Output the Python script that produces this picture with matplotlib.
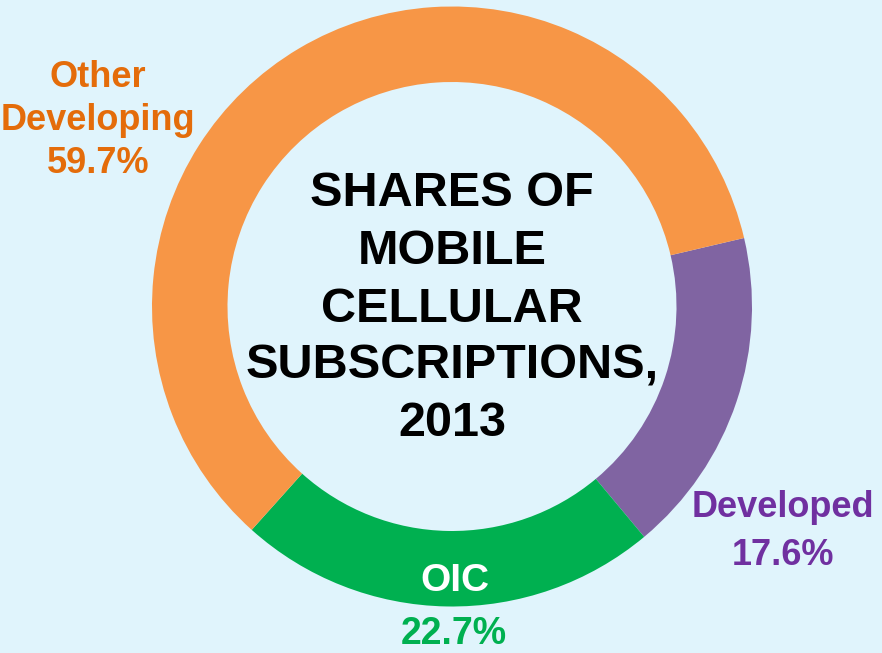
import matplotlib
matplotlib.use("Agg")
import matplotlib.pyplot as plt

categories = ["Developed", "OIC", "Other Developing"]
shares = [17.6, 22.7, 59.7]
slice_colors = ["#8064A2", "#00B050", "#F79646"]
title_lines = ["SHARES OF", "MOBILE", "CELLULAR", "SUBSCRIPTIONS,", "2013"]

W, H = 882, 653
BG = "#E0F4FC"
plt.rcParams['font.family'] = ['Liberation Sans', 'DejaVu Sans']

fig = plt.figure(figsize=(W / 100, H / 100), dpi=100, facecolor=BG)
ax = fig.add_axes([0, 0, 1, 1])
ax.set_facecolor(BG)

cx, cy, R = 452, H - 306.5, 300
ax.pie(shares, colors=slice_colors, startangle=13.2, counterclock=False,
       center=(cx, cy), radius=R, frame=True,
       wedgeprops=dict(width=R - 224.5, linewidth=0))
ax.set_xlim(0, W)
ax.set_ylim(0, H)
ax.set_aspect('equal')
ax.axis('off')

def put(x, y_px, s, color, size):
    ax.text(x, H - y_px, s, color=color, fontsize=size, fontweight='bold',
            ha='center', va='baseline')

# centre title
for i, line in enumerate(title_lines):
    put(452, 206.5 + i * 57.5, line, "black", 35)

# labels
put(98, 87, "Other", "#E46C0A", 26)
put(98, 130, "Developing", "#E46C0A", 26)
put(98, 173, f"{shares[2]}%", "#E46C0A", 26)

put(783, 517, categories[0], "#7030A0", 26)
put(783, 565, f"{shares[0]}%", "#7030A0", 26)

put(455, 591, categories[1], "white", 28)
put(454, 644, f"{shares[1]}%", "#00B050", 27)

fig.savefig("out.png", dpi=100, facecolor=BG)
